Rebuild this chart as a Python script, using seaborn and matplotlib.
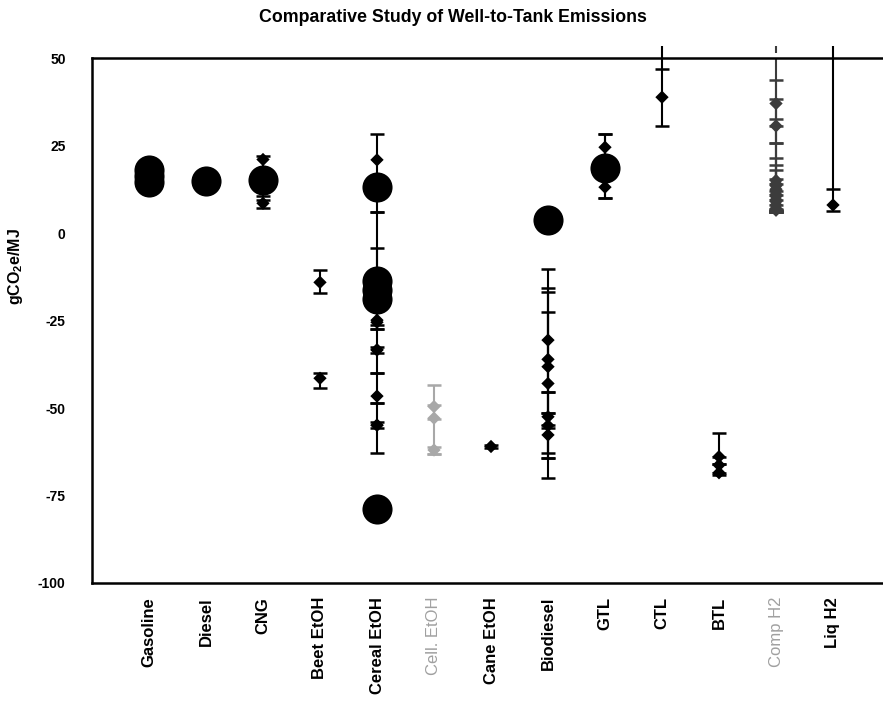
import numpy as np
import pandas as pd
import matplotlib
matplotlib.use("Agg")
import matplotlib.pyplot as plt
import seaborn as sns

# fuel pathways along the x axis
fuels = ["Gasoline", "Diesel", "CNG", "Beet EtOH", "Cereal EtOH", "Cell. EtOH",
         "Cane EtOH", "Biodiesel", "GTL", "CTL", "BTL", "Comp H2", "Liq H2"]
grey_fuels = {"Cell. EtOH": "#a8a8a8", "Comp H2": "#3c3c3c"}

# individual study results (diamonds) with their ranges
pt_fuel = (["CNG"] * 2 + ["Beet EtOH"] * 2 + ["Cereal EtOH"] * 8 + ["Cell. EtOH"] * 3
           + ["Cane EtOH"] + ["Biodiesel"] * 7 + ["GTL"] * 2 + ["CTL"] + ["BTL"] * 3
           + ["Comp H2"] * 14 + ["Liq H2"])
pt_val = [21.0, 8.5,
          -14.1, -41.5,
          20.9, -24.9, -25.5, -33.4, -33.4, -46.6, -54.9, -54.9,
          -49.6, -52.9, -62.0,
          -61.0,
          -30.6, -36.1, -38.2, -43.0, -52.5, -55.0, -57.7,
          24.5, 13.1,
          38.8,
          -63.9, -66.3, -68.5,
          37.0, 30.6, 15.0, 14.0, 13.5, 12.5, 12.0, 11.0, 10.5, 9.5, 9.0, 8.0, 7.0, 6.5,
          8.0]
pt_lo = [9.4, 7.1,
         -17.2, -44.4,
         6.1, -27.4, -26.3, -40.0, -34.4, -48.6, -62.9, -55.8,
         -53.0, -63.0, -63.0,
         -61.4,
         -51.4, -62.9, -54.9, -45.3, -64.3, -69.9, -64.3,
         9.9, 9.9,
         30.6,
         -66.0, -68.5, -69.0,
         30.6, 25.6, 6.5, 6.0, 6.2, 7.0, 6.0, 6.4, 6.2, 6.5, 6.0, 6.0, 6.0, 6.0,
         6.4]
pt_hi = [22.0, 10.6,
         -10.6, -39.9,
         28.2, 6.1, -4.3, -32.5, -27.4, -40.0, -53.9, -48.6,
         -43.4, -49.0, -61.0,
         -60.6,
         -10.4, -15.8, -16.9, -22.7, -51.4, -45.3, -55.8,
         28.3, 28.3,
         47.0,
         -57.0, -64.0, -66.0,
         51.3, 43.7, 38.2, 32.5, 25.6, 21.3, 19.4, 18.0, 15.5, 14.0, 12.0, 11.0, 9.5, 8.0,
         12.6]

# larger markers (headline pathway values)
big_fuel = (["Gasoline"] * 3 + ["Diesel"] + ["CNG"] + ["Cereal EtOH"] * 5
            + ["Biodiesel"] + ["GTL"])
big_val = [18.0, 16.3, 14.6, 15.0, 15.1, 13.2, -13.7, -16.3, -18.9, -78.9, 3.7, 18.5]

# ranges running off the top of the chart
over_fuel = ["CTL", "Comp H2", "Liq H2"]
over_lo = [47.0, 51.3, 12.6]
over_hi = [53.5, 53.5, 53.5]

yticks = [50, 25, 0, -25, -50, -75, -100]

pos = {f: i + 1 for i, f in enumerate(fuels)}
colors = {f: grey_fuels.get(f, "black") for f in fuels}

pts = pd.DataFrame({"fuel": pt_fuel, "value": pt_val, "lo": pt_lo, "hi": pt_hi})
pts["x"] = pts["fuel"].map(pos)
big = pd.DataFrame({"fuel": big_fuel, "value": big_val})
big["x"] = big["fuel"].map(pos)

sns.set_style("white")
plt.rcParams["font.family"] = ["Liberation Sans", "DejaVu Sans"]
plt.rcParams["text.color"] = "black"
plt.rcParams["axes.labelcolor"] = "black"
plt.rcParams["xtick.color"] = "black"
plt.rcParams["ytick.color"] = "black"
plt.rcParams["mathtext.fontset"] = "custom"
plt.rcParams["mathtext.rm"] = "Liberation Sans:bold"
plt.rcParams["mathtext.it"] = "Liberation Sans:bold"

fig = plt.figure(figsize=(8.83, 7.09), dpi=100)
ax = fig.add_axes([92 / 883, 126 / 709, 798 / 883, 525 / 709])

# error bars
for f, g in pts.groupby("fuel"):
    c = colors[f]
    ax.errorbar(g["x"], g["value"], yerr=[g["value"] - g["lo"], g["hi"] - g["value"]],
                fmt="none", ecolor=c, elinewidth=1.5, capsize=5, capthick=1.8,
                zorder=2)
for f, lo, hi in zip(over_fuel, over_lo, over_hi):
    ax.vlines(pos[f], lo, hi, color=colors[f], lw=1.5, clip_on=False, zorder=2)

sns.scatterplot(data=pts, x="x", y="value", hue="fuel", palette=colors, marker="D",
                s=46, linewidth=0, legend=False, ax=ax, zorder=3)
sns.scatterplot(data=big, x="x", y="value", color="black", marker="o", s=470,
                linewidth=0, legend=False, ax=ax, zorder=4)

ax.set_xlim(0, 14)
ax.set_ylim(-100, 50)
ax.set_yticks(yticks)
ax.set_yticklabels([str(t) for t in yticks], fontsize=10, fontweight="bold")
ax.set_xticks(range(1, len(fuels) + 1))
ax.set_xticklabels(fuels, rotation=90, fontsize=12, fontweight="bold", va="top")
for lab in ax.get_xticklabels():
    f = lab.get_text()
    if f in grey_fuels:
        lab.set_color("#a0a0a0")
        lab.set_fontweight("normal")
ax.tick_params(axis="x", length=0, pad=10)
ax.tick_params(axis="y", direction="out", length=3, width=1.2, pad=16)

ax.set_xlabel("")
ax.set_ylabel(r"gCO$_\mathrm{2}$e/MJ", fontsize=11.5, fontweight="bold")
ax.yaxis.set_label_coords(-0.084, 0.602)

for side in ["left", "bottom", "top"]:
    ax.spines[side].set_linewidth(1.8)
    ax.spines[side].set_color("black")
ax.spines["right"].set_visible(False)

fig.text(453 / 883, 1 - 17 / 709, "Comparative Study of Well-to-Tank Emissions",
         ha="center", va="center", fontsize=12.8, fontweight="bold")

fig.savefig("out.png", dpi=100)
